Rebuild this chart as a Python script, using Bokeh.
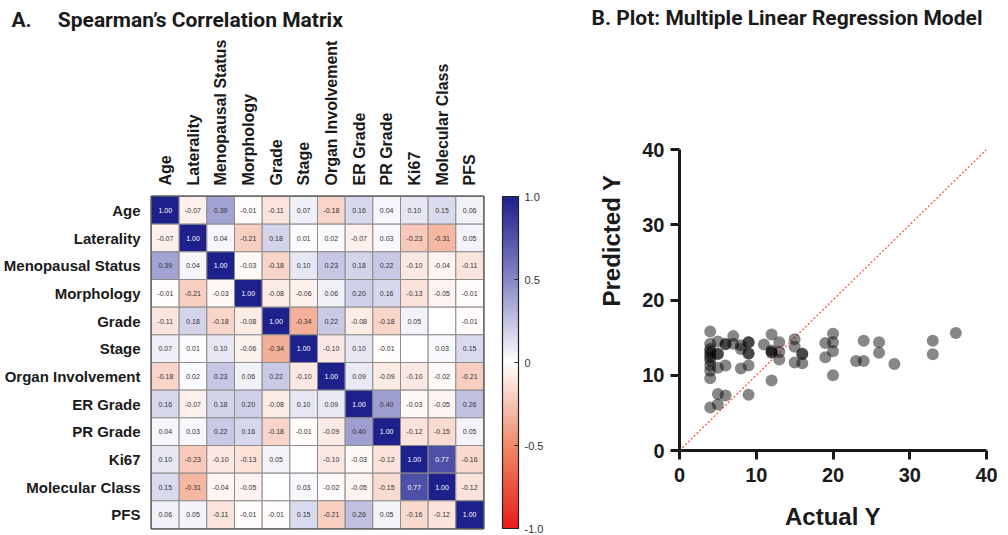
import numpy as np
from bokeh.plotting import figure
from bokeh.models import (ColumnDataSource, LinearColorMapper, ColorBar, FixedTicker,
                          CustomJSTickFormatter, Range1d)
from bokeh.layouts import row, column
from bokeh.embed import file_html
from bokeh.resources import INLINE
from bokeh.core.properties import value

# ---------------- data ----------------
variables = ["Age", "Laterality", "Menopausal Status", "Morphology", "Grade", "Stage",
             "Organ Involvement", "ER Grade", "PR Grade", "Ki67", "Molecular Class", "PFS"]

r_age        = [1.00, -0.07, 0.39, -0.01, -0.11, 0.07, -0.18, 0.16, 0.04, 0.10, 0.15, 0.06]
r_laterality = [-0.07, 1.00, 0.04, -0.21, 0.18, 0.01, 0.02, -0.07, 0.03, -0.23, -0.31, 0.05]
r_menopausal = [0.39, 0.04, 1.00, -0.03, -0.18, 0.10, 0.23, 0.18, 0.22, -0.10, -0.04, -0.11]
r_morphology = [-0.01, -0.21, -0.03, 1.00, -0.08, -0.06, 0.06, 0.20, 0.16, -0.13, -0.05, -0.01]
r_grade      = [-0.11, 0.18, -0.18, -0.08, 1.00, -0.34, 0.22, -0.08, -0.18, 0.05, None, -0.01]
r_stage      = [0.07, 0.01, 0.10, -0.06, -0.34, 1.00, -0.10, 0.10, -0.01, None, 0.03, 0.15]
r_organ      = [-0.18, 0.02, 0.23, 0.06, 0.22, -0.10, 1.00, 0.09, -0.09, -0.10, -0.02, -0.21]
r_er         = [0.16, -0.07, 0.18, 0.20, -0.08, 0.10, 0.09, 1.00, 0.40, -0.03, -0.05, 0.26]
r_pr         = [0.04, 0.03, 0.22, 0.16, -0.18, -0.01, -0.09, 0.40, 1.00, -0.12, -0.15, 0.05]
r_ki67       = [0.10, -0.23, -0.10, -0.13, 0.05, None, -0.10, -0.03, -0.12, 1.00, 0.77, -0.16]
r_molecular  = [0.15, -0.31, -0.04, -0.05, None, 0.03, -0.02, -0.05, -0.15, 0.77, 1.00, -0.12]
r_pfs        = [0.06, 0.05, -0.11, -0.01, -0.01, 0.15, -0.21, 0.26, 0.05, -0.16, -0.12, 1.00]

corr_rows = [r_age, r_laterality, r_menopausal, r_morphology, r_grade, r_stage,
             r_organ, r_er, r_pr, r_ki67, r_molecular, r_pfs]

colorbar_ticks = [-1.0, -0.5, 0.0, 0.5, 1.0]
axis_ticks = [0, 10, 20, 30, 40]

actual_y = [4, 4, 4, 4, 4, 4, 4, 4, 4, 4, 4,
            5, 5, 5, 5, 5, 5,
            6, 6, 6, 6,
            7, 7,
            8, 8, 8,
            9, 9, 9, 9, 9, 9,
            11,
            12, 12, 12, 12, 12,
            13, 13, 13,
            15, 15, 15,
            16, 16, 16,
            19, 19,
            20, 20, 20, 20,
            23, 24, 24, 26, 26, 28, 33, 33, 36]
predicted_y = [15.8, 14.2, 13.5, 13.2, 12.8, 12.4, 12.0, 11.3, 10.6, 9.6, 5.7,
               14.5, 12.8, 12.9, 11.0, 7.5, 6.1,
               14.2, 14.1, 11.3, 7.3,
               15.2, 14.2,
               14.0, 13.5, 10.9,
               14.4, 14.4, 12.9, 12.9, 11.3, 7.4,
               14.1,
               15.4, 13.3, 13.1, 13.0, 9.3,
               14.4, 13.1, 12.1,
               14.8, 13.8, 11.7,
               12.8, 12.9, 11.6,
               14.3, 12.4,
               15.5, 14.4, 13.2, 10.0,
               11.9, 14.6, 11.9, 14.4, 13.0, 11.5, 14.6, 12.8, 15.6]

identity_line = [0, 40]

# ---------------- palette (red - white - blue) ----------------
anchors = [(-1.0, (232, 28, 28)), (-0.5, (239, 138, 105)), (0.0, (255, 255, 255)),
           (0.5, (135, 135, 198)), (1.0, (30, 32, 140))]
palette = []
for i in range(256):
    v = -1 + 2 * i / 255
    for (v0, c0), (v1, c1) in zip(anchors[:-1], anchors[1:]):
        if v0 <= v <= v1:
            t = (v - v0) / (v1 - v0)
            c = tuple(int(round(a + (b - a) * t)) for a, b in zip(c0, c1))
            palette.append("#%02x%02x%02x" % c)
            break

mapper = LinearColorMapper(palette=palette, low=-1, high=1, nan_color="white")

# ---------------- heatmap ----------------
xs, ys, vals, labels, tcolors = [], [], [], [], []
for rname, rvals in zip(variables, corr_rows):
    for cname, v in zip(variables, rvals):
        xs.append(cname)
        ys.append(rname)
        vals.append(np.nan if v is None else v)
        labels.append("" if v is None else "%.2f" % v)
        tcolors.append("white" if (v is not None and abs(v) > 0.6) else "#333333")

src = ColumnDataSource(dict(x=xs, y=ys, val=np.array(vals, dtype=float),
                            label=labels, tc=tcolors))

FONT = "Liberation Sans"
NB = "\u00a0"

p = figure(x_range=variables, y_range=list(reversed(variables)),
           x_axis_location="above", frame_width=332, frame_height=332,
           min_border_left=142, min_border_right=76, min_border_top=188, min_border_bottom=7,
           output_backend="svg", toolbar_location=None,
           title="A." + NB * 5 + "Spearman\u2019s Correlation Matrix")
p.title.text_font = "Roboto"
p.title.text_font_size = "21px"
p.title.text_font_style = "bold"
p.title.text_color = "#1a1a1a"
p.title.align = "left"
p.title.offset = -140

p.rect(x="x", y="y", width=1, height=1, source=src,
       fill_color={"field": "val", "transform": mapper},
       line_color="#8c8c8c", line_width=1)
p.text(x="x", y="y", text="label", source=src, text_color="tc",
       text_font=value("Liberation Sans"), text_font_size="7px",
       text_align="center", text_baseline="middle")

p.grid.grid_line_color = None
for ax in (p.xaxis[0], p.yaxis[0]):
    ax.axis_line_color = None
    ax.major_tick_line_color = None
    ax.minor_tick_line_color = None
    ax.major_label_text_font = FONT
    ax.major_label_text_font_style = "bold"
    ax.major_label_text_color = "#1a1a1a"
    ax.major_label_standoff = 5
p.xaxis.major_label_orientation = "vertical"
p.xaxis.major_label_text_font_size = "16px"
p.yaxis.major_label_text_font_size = "15px"
p.outline_line_color = "#1a1a1a"
p.outline_line_width = 2
p.background_fill_color = "white"
p.border_fill_color = "white"

cbar = ColorBar(color_mapper=mapper, width=16, height=332, margin=0, padding=0,
                location=(19, 0),
                ticker=FixedTicker(ticks=colorbar_ticks),
                formatter=CustomJSTickFormatter(code="return tick == 0 ? '0' : tick.toFixed(1);"),
                major_label_text_font=FONT, major_label_text_font_size="11px",
                major_label_text_color="#333333",
                major_tick_line_color="#222222", major_tick_in=4, major_tick_out=0,
                bar_line_color="#222222", bar_line_width=1.2,
                label_standoff=6, background_fill_color="white")
p.add_layout(cbar, "right")

# ---------------- scatter ----------------
# frame extends above y=40 so that the title sits at the top; axis is bounded to 0..40
TOP_BORDER = 30
FRAME_H = 420
Y_MAX = 40 * FRAME_H / 301.0

s = figure(x_range=Range1d(0, 40), y_range=Range1d(0, Y_MAX),
           frame_width=307, frame_height=FRAME_H,
           min_border_left=120, min_border_right=15, min_border_top=TOP_BORDER,
           min_border_bottom=80,
           output_backend="svg", toolbar_location=None,
           title="B. Plot: Multiple Linear Regression Model")
s.title.text_font = "Roboto"
s.title.text_font_size = "21px"
s.title.text_font_style = "bold"
s.title.text_color = "#1a1a1a"
s.title.align = "left"
s.title.offset = -88
s.title.standoff = 2

s.line(x=identity_line, y=identity_line, line_color="#f0502e", line_width=1.2,
       line_dash="2 2")
s.scatter(x=actual_y, y=predicted_y, size=12, fill_color="black", fill_alpha=0.47,
          line_color=None)

s.grid.grid_line_color = None
s.outline_line_color = None
for ax in (s.xaxis[0], s.yaxis[0]):
    ax.ticker = FixedTicker(ticks=axis_ticks)
    ax.bounds = (0, 40)
    ax.axis_line_width = 3
    ax.axis_line_color = "#1a1a1a"
    ax.major_tick_line_width = 3
    ax.major_tick_line_color = "#1a1a1a"
    ax.major_tick_out = 9
    ax.major_tick_in = 0
    ax.minor_tick_line_color = None
    ax.major_label_text_font = FONT
    ax.major_label_text_font_size = "20px"
    ax.major_label_text_font_style = "bold"
    ax.major_label_text_color = "#1a1a1a"
    ax.axis_label_text_font = FONT
    ax.axis_label_text_font_size = "24px"
    ax.axis_label_text_font_style = "bold"
    ax.axis_label_text_color = "#1a1a1a"
s.xaxis.axis_label = "Actual Y"
s.yaxis.axis_label = "Predicted Y"
s.xaxis.major_label_standoff = 8
s.yaxis.major_label_standoff = 6
s.xaxis.axis_label_standoff = 18
s.yaxis.axis_label_standoff = 14
s.border_fill_color = "white"

layout = row(column(p), column(s))
open("out.html", "w").write(file_html(layout, INLINE))
